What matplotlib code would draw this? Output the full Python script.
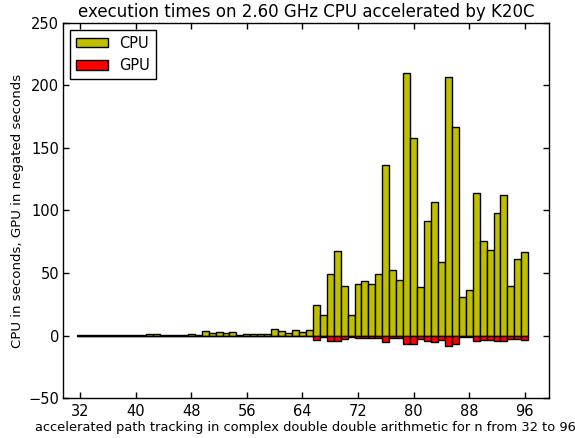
#!/usr/bin/env python3

import numpy as np
import matplotlib
matplotlib.use("Agg")
import matplotlib.pyplot as plt


# ---------------- DATA ---------------- #

DIMENSIONS = list(range(32, 97))

CPU_TIMES = [
    0.2, 0.5, 0.2, 0.5, 0.2, 0.3, 0.4, 0.3,       # 32-39
    0.4, 0.8, 1.2, 1.2, 0.3, 0.4, 0.5, 0.6,       # 40-47
    1.3, 0.7, 3.5, 2.0, 2.7, 2.0, 3.2, 0.6,       # 48-55
    1.0, 1.6, 1.5, 0.9, 5.3, 3.5, 2.0, 4.5,       # 56-63
    2.7, 4.8, 24.8, 16.8, 49.3, 67.5, 40.0, 16.3,  # 64-71
    41.3, 43.5, 41.3, 49.6, 136.0, 52.8, 44.8, 210.0,  # 72-79
    158.0, 38.7, 91.5, 107.0, 59.0, 206.7, 166.7, 30.7,  # 80-87
    36.8, 113.9, 75.5, 68.3, 97.9, 112.5, 40.0, 61.3,  # 88-95
    66.7,                                          # 96
]

GPU_TIMES = [
    0.05, 0.1, 0.05, 0.1, 0.05, 0.05, 0.1, 0.05,  # 32-39
    0.1, 0.1, 0.1, 0.1, 0.05, 0.1, 0.1, 0.1,      # 40-47
    0.1, 0.1, 0.3, 0.2, 0.2, 0.2, 0.3, 0.1,       # 48-55
    0.1, 0.2, 0.2, 0.1, 0.5, 0.4, 0.3, 0.5,       # 56-63
    0.4, 0.5, 3.3, 1.2, 4.0, 4.5, 2.4, 0.8,       # 64-71
    1.9, 1.9, 1.9, 1.9, 5.0, 1.9, 2.2, 7.0,       # 72-79
    6.6, 2.8, 4.4, 5.0, 3.2, 8.4, 6.9, 1.5,       # 80-87
    1.5, 4.4, 3.7, 3.2, 4.0, 4.5, 2.4, 2.9,       # 88-95
    3.4,                                           # 96
]

XTICK_VALUES = list(range(32, 97, 8))
YTICK_VALUES = list(range(-50, 251, 50))


# ---------------- PLOTTING ---------------- #

plt.rcParams["font.family"] = "DejaVu Sans"
plt.rcParams["axes.unicode_minus"] = True

fig = plt.figure(figsize=(5.75, 4.38), dpi=100)
ax = fig.add_axes([0.109, 0.091, 0.846, 0.857])

x = np.array(DIMENSIONS)
cpu = np.array(CPU_TIMES)
gpu = -np.array(GPU_TIMES)

ax.bar(x, cpu, width=1.0, align="edge", color=(0.75, 0.75, 0.0),
       edgecolor="black", linewidth=1.0, label="CPU")
ax.bar(x, gpu, width=1.0, align="edge", color=(1.0, 0.0, 0.0),
       edgecolor="black", linewidth=1.0, label="GPU")

ax.set_xlim(30, 100)
ax.set_ylim(-50, 250)

# ticks sit in the middle of each bar
ax.set_xticks([v + 0.5 for v in XTICK_VALUES])
ax.set_xticklabels([str(v) for v in XTICK_VALUES])
ax.set_yticks(YTICK_VALUES)

ax.tick_params(direction="in", top=True, right=True, length=4,
               width=1.0, labelsize=10.5)
ax.tick_params(axis="x", pad=4)
ax.tick_params(axis="y", pad=2.5)

for spine in ax.spines.values():
    spine.set_linewidth(1.0)

ax.set_title("execution times on 2.60 GHz CPU accelerated by K20C",
             fontsize=12, pad=4)
ax.set_xlabel("accelerated path tracking in complex double double arithmetic for n from 32 to 96",
              fontsize=9.4, labelpad=2)
ax.set_ylabel("CPU in seconds, GPU in negated seconds", fontsize=9.6, labelpad=3)

leg = ax.legend(loc="upper left", fontsize=10.5, fancybox=False,
                edgecolor="black", framealpha=1.0, handlelength=2.2,
                handleheight=0.6, borderaxespad=0.5)
leg.get_frame().set_linewidth(1.0)

plt.savefig("out.png", dpi=100)
plt.close()
